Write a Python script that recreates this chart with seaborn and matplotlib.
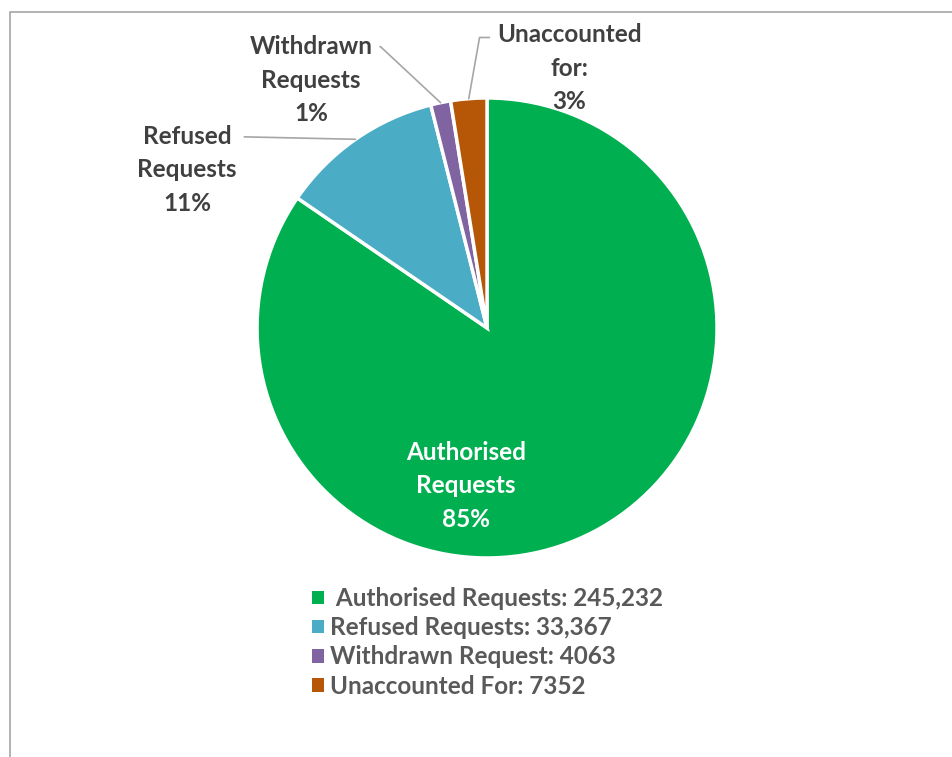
import numpy as np
import matplotlib.pyplot as plt
import seaborn as sns
from matplotlib.patches import Patch, Rectangle

sns.set_theme(style="white")
plt.rcParams['font.family'] = ['Lato', 'DejaVu Sans']

# data
categories = ["Authorised Requests", "Refused Requests", "Withdrawn Requests", "Unaccounted for:"]
legend_labels = [" Authorised Requests: 245,232", "Refused Requests: 33,367",
                 "Withdrawn Request: 4063", "Unaccounted For: 7352"]
counts = [245232, 33367, 4063, 7352]
pct_labels = ["85%", "11%", "1%", "3%"]
colors = ["#00B050", "#4BACC6", "#8064A2", "#B65708"]

fig = plt.figure(figsize=(9.52, 7.57), dpi=100)

# chart frame (only top and left edge visible)
fig.add_artist(Rectangle((10 / 952, -0.2), 1.5, 0.2 + (757 - 12) / 757,
                         transform=fig.transFigure, fill=False,
                         edgecolor="#A6A6A6", linewidth=1.2))

ax = fig.add_axes([0.27, 0.2629, 0.4832, 0.6077])
wedges, _ = ax.pie(counts, colors=colors, startangle=90, counterclock=False,
                   wedgeprops=dict(edgecolor="white", linewidth=2.5))
ax.set_xlim(-1, 1)
ax.set_ylim(-1, 1)
ax.set_aspect("equal")
ax.axis("off")

txt_color = "#404040"
fs = 17.5
ls = 1.55

# Authorised label inside the slice
ax.text(-0.091, -0.687, f"{categories[0].replace(' ', chr(10))}\n{pct_labels[0]}",
        ha="center", va="center", color="white", fontsize=fs, fontweight="bold",
        linespacing=ls)

# outside labels with leader lines
label_pos = {1: (-1.304, 0.687), 2: (-0.765, 1.078), 3: (0.357, 1.130)}
conn = {1: "arc3", 2: "angle,angleA=0,angleB=137,rad=0", 3: "angle,angleA=0,angleB=80,rad=0"}
relpos = {1: (1.0, 0.87), 2: (1.0, 0.87), 3: (0.0, 0.84)}
for i in (1, 2, 3):
    w = wedges[i]
    mid = np.deg2rad((w.theta1 + w.theta2) / 2)
    xy = (np.cos(mid), np.sin(mid))
    lab = categories[i].replace(" ", "\n") + "\n" + pct_labels[i]
    ax.annotate(lab, xy=xy, xytext=label_pos[i], ha="center", va="center",
                color=txt_color, fontsize=fs, fontweight="bold", linespacing=ls,
                annotation_clip=False,
                arrowprops=dict(arrowstyle="-", color="#A6A6A6", lw=1.2,
                                connectionstyle=conn[i], relpos=relpos[i],
                                shrinkA=3, shrinkB=0))

handles = [Patch(facecolor=c, edgecolor="none") for c in colors]
leg = fig.legend(handles, legend_labels, loc="upper left",
                 bbox_to_anchor=(0.318, 0.237), frameon=False,
                 fontsize=17.5, handlelength=0.47, handleheight=0.47,
                 handletextpad=0.25, labelspacing=0.25, borderaxespad=0)
for t in leg.get_texts():
    t.set_color("#595959")
    t.set_fontweight("bold")

fig.savefig("out.png", dpi=100)
